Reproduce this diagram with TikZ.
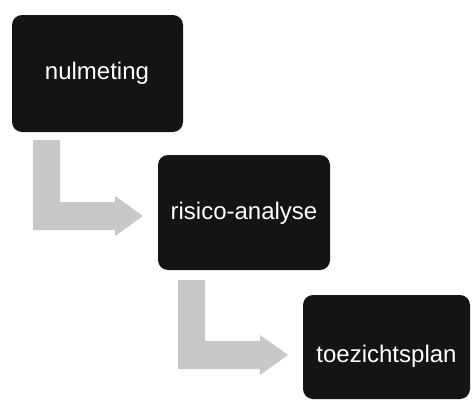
\documentclass[tikz,border=0pt]{standalone}
\usepackage{fontspec}
\setmainfont{Liberation Sans}
\definecolor{boxc}{HTML}{141414}
\definecolor{arrc}{HTML}{C8C8C8}
\tikzset{
  stepbox/.style={fill=boxc, rounded corners=10pt, inner sep=0pt},
  steptext/.style={text=white, font=\fontsize{24}{28}\selectfont, inner sep=0pt, anchor=center},
  bentarrow/.style={fill=arrc, draw=none}
}
\begin{document}
\begin{tikzpicture}[x=1pt,y=-1pt]
\useasboundingbox (0,0) rectangle (472,407);
% boxes
\fill[stepbox] (12,15) rectangle (183,132);
\node[steptext] (a) at (97,73) {nulmeting};
\fill[stepbox] (158,155) rectangle (330,270);
\node[steptext] (b) at (244,213) {risico-analyse};
\fill[stepbox] (303,295) rectangle (470,399);
\node[steptext] (c) at (386.5,356) {toezichtsplan};
% arrows
\fill[bentarrow] (33,140) -- (60,140) -- (60,202) -- (115,202) -- (115,196) -- (143,216) -- (115,236) -- (115,230) -- (33,230) -- cycle;
\fill[bentarrow] (178,280) -- (205,280) -- (205,341) -- (260,341) -- (260,335) -- (288,355) -- (260,375) -- (260,369) -- (178,369) -- cycle;
\end{tikzpicture}
\end{document}
